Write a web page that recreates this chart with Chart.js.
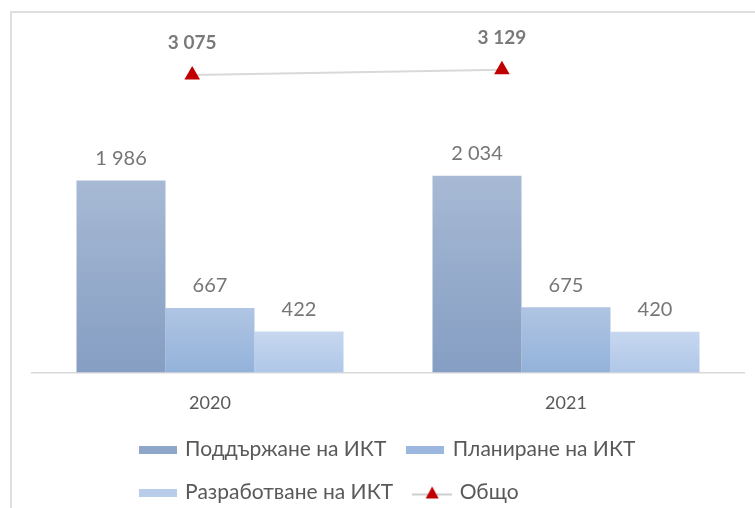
<!DOCTYPE html>
<html>
<head>
<meta charset="utf-8">
<script src="https://cdn.jsdelivr.net/npm/chart.js@4.4.1/dist/chart.umd.min.js"></script>
<style>
  html, body { margin: 0; padding: 0; background: #fff; }
  #wrap { position: relative; width: 755px; height: 508px; }
  #frame { position: absolute; left: 10px; top: 11px; right: 0; bottom: 0; border-left: 2px solid #dedede; border-top: 2px solid #dedede; }
  #ictChart { position: absolute; left: 0; top: 0; }
</style>
</head>
<body>
<div id="wrap">
  <div id="frame"></div>
  <canvas id="ictChart" width="755" height="508"></canvas>
</div>
<script>
const years = ['2020', '2021'];
const supportValues = [1986, 2034];
const planningValues = [667, 675];
const developmentValues = [422, 420];
const totalValues = [3075, 3129];
// where the "Общо" markers sit along the year axis (0 = 2020, 1 = 2021)
const totalPositions = [-0.05, 0.82];
const seriesNames = ['Поддържане на ИКТ', 'Планиране на ИКТ', 'Разработване на ИКТ', 'Общо'];

const fontFamily = 'Lato, "Open Sans", sans-serif';
const legendRoom = 22;  // legend takes less room under the axis than chart.js gives it
const legendShift = 17;

function fmt(v) {
    return String(v).replace(/\B(?=(\d{3})+(?!\d))/g, ' ');
}

function points(values, xs) {
    return values.map((v, i) => ({ x: xs ? xs[i] : i, y: v }));
}

// vertical gradient on each bar, from its top down to zero
function barGradient(top, bottom) {
    return (ctx) => {
        const chart = ctx.chart;
        const y = chart.scales.y;
        if (!y || !ctx.parsed) return bottom;
        const y0 = y.getPixelForValue(0);
        const y1 = y.getPixelForValue(ctx.parsed.y);
        const g = chart.ctx.createLinearGradient(0, y1, 0, y0);
        g.addColorStop(0, top);
        g.addColorStop(1, bottom);
        return g;
    };
}

function swatch(color) {
    const c = document.createElement('canvas');
    c.width = 38;
    c.height = 8;
    const g = c.getContext('2d');
    g.fillStyle = color;
    g.fillRect(0, 0, 38, 8);
    return c;
}

function lineSwatch() {
    const c = document.createElement('canvas');
    c.width = 40;
    c.height = 14;
    const g = c.getContext('2d');
    g.strokeStyle = '#bfbfbf';
    g.lineWidth = 1.5;
    g.beginPath();
    g.moveTo(0, 9);
    g.lineTo(40, 9);
    g.stroke();
    g.fillStyle = '#c00000';
    g.beginPath();
    g.moveTo(20, 1);
    g.lineTo(26.5, 13);
    g.lineTo(13.5, 13);
    g.closePath();
    g.fill();
    return c;
}

const legendIcons = [swatch('#8ea6c8'), swatch('#9bb7dd'), swatch('#b9cdea'), lineSwatch()];

const valueLabels = {
    id: 'valueLabels',
    afterDatasetsDraw(chart) {
        const ctx = chart.ctx;
        ctx.save();
        ctx.textAlign = 'center';
        ctx.textBaseline = 'middle';
        chart.data.datasets.forEach((ds, di) => {
            const meta = chart.getDatasetMeta(di);
            const isLine = ds.type === 'line';
            ctx.font = isLine ? 'bold 19px ' + fontFamily : '20px ' + fontFamily;
            ctx.fillStyle = isLine ? '#7a7a7a' : '#767676';
            meta.data.forEach((el, i) => {
                ctx.fillText(fmt(ds.data[i].y), el.x, el.y - (isLine ? 32 : 22));
            });
        });
        ctx.restore();
    }
};

// legend: rows start at the same x, and it sits closer to the axis
const legendTweaks = {
    id: 'legendTweaks',
    afterInit(chart) {
        const lg = chart.legend;
        const fit = lg.fit;
        lg.fit = function () {
            fit.call(this);
            this.height -= legendRoom;
        };
    },
    afterLayout(chart) {
        const lg = chart.legend;
        lg.top -= legendShift;
        if (lg.lineWidths && lg.lineWidths.length > 1) {
            const w = Math.max(...lg.lineWidths);
            lg.lineWidths = lg.lineWidths.map(() => w);
        }
    }
};

const ictChart = new Chart('ictChart', {
    type: 'bar',
    data: {
        datasets: [
            {
                type: 'line',
                label: seriesNames[3],
                data: points(totalValues, totalPositions),
                borderColor: '#d9d9d9',
                borderWidth: 2,
                pointStyle: 'triangle',
                pointRadius: 9,
                pointHoverRadius: 9,
                pointBackgroundColor: '#c00000',
                pointBorderColor: '#c00000',
                pointBorderWidth: 0,
                order: 0
            },
            {
                label: seriesNames[0],
                data: points(supportValues),
                backgroundColor: barGradient('#a7b9d4', '#859ec3'),
                order: 1
            },
            {
                label: seriesNames[1],
                data: points(planningValues),
                backgroundColor: barGradient('#b0c5e3', '#93b2da'),
                order: 1
            },
            {
                label: seriesNames[2],
                data: points(developmentValues),
                backgroundColor: barGradient('#c7d7ef', '#afc7e8'),
                order: 1
            }
        ]
    },
    options: {
        responsive: false,
        animation: false,
        layout: {
            padding: { left: 32, right: 11, top: 34, bottom: 0 }
        },
        datasets: {
            bar: {
                categoryPercentage: 0.75,
                barPercentage: 1
            }
        },
        plugins: {
            tooltip: { enabled: false },
            legend: {
                position: 'bottom',
                labels: {
                    usePointStyle: true,
                    pointStyleWidth: 34,
                    padding: 22,
                    color: '#595959',
                    font: { family: fontFamily, size: 21 },
                    sort: (a, b) => {
                        const rank = [3, 0, 1, 2];
                        return rank[a.datasetIndex] - rank[b.datasetIndex];
                    },
                    generateLabels(chart) {
                        return chart.data.datasets.map((ds, i) => ({
                            text: ds.label,
                            datasetIndex: i,
                            pointStyle: legendIcons[(i + 3) % 4],
                            fontColor: '#595959',
                            hidden: false,
                            lineWidth: 0
                        }));
                    }
                }
            }
        },
        scales: {
            x: {
                type: 'linear',
                min: -0.5,
                max: years.length - 0.5,
                offset: false,
                afterBuildTicks: (scale) => {
                    scale.ticks = years.map((_, i) => ({ value: i }));
                },
                grid: { display: false, drawTicks: false, offset: false },
                border: { display: true, color: '#d9d9d9', width: 1.5 },
                ticks: {
                    autoSkip: false,
                    callback: (v) => years[v] || '',
                    color: '#595959',
                    padding: 20,
                    font: { family: fontFamily, size: 18 }
                }
            },
            y: {
                display: false,
                min: 0,
                max: 3500
            }
        }
    },
    plugins: [valueLabels, legendTweaks]
});
</script>
</body>
</html>
